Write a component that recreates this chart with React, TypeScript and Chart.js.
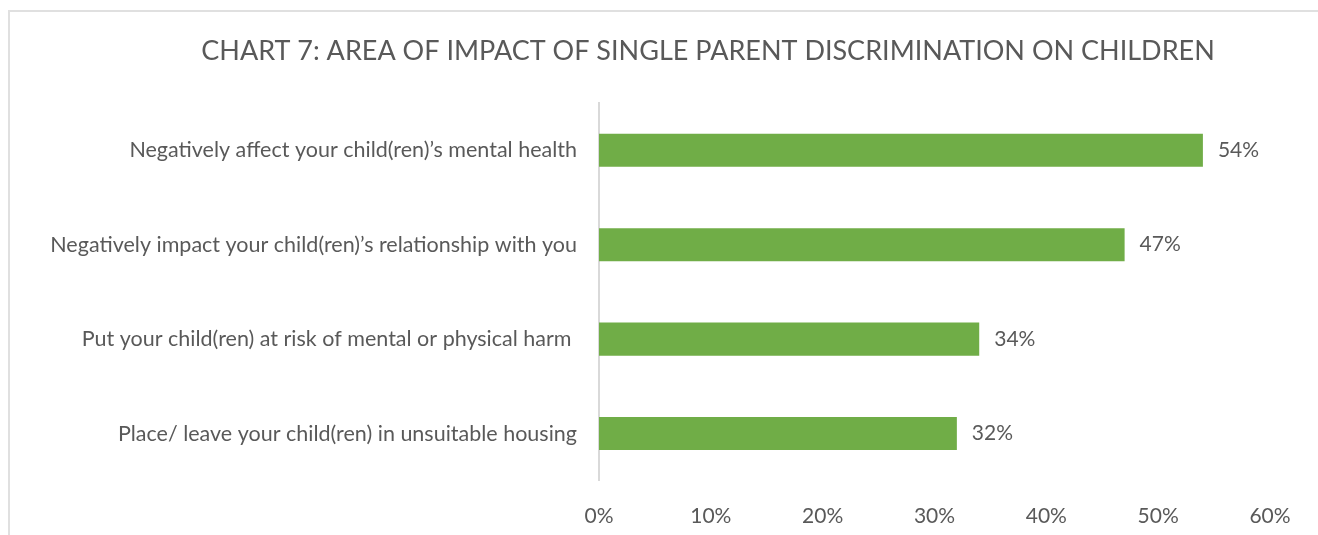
import React, { useEffect, useRef } from "react";
import { Chart, registerables } from "chart.js";

Chart.register(...registerables);

const titleText = "CHART 7: AREA OF IMPACT OF SINGLE PARENT DISCRIMINATION ON CHILDREN";
const categories = [
  "Negatively affect your child(ren)’s mental health",
  "Negatively impact your child(ren)’s relationship with you",
  "Put your child(ren) at risk of mental or physical harm ",
  "Place/ leave your child(ren) in unsuitable housing",
];
const values = [54, 47, 34, 32];
const axisMin = 0;
const axisMax = 60;
const axisStep = 10;

const FONT = "Lato, 'Open Sans', sans-serif";
const TEXT = "#595959";

const valueLabels = {
  id: "valueLabels",
  afterDatasetsDraw(chart: any) {
    const ctx = chart.ctx;
    const meta = chart.getDatasetMeta(0);
    ctx.save();
    ctx.font = `21px ${FONT}`;
    ctx.fillStyle = TEXT;
    ctx.textAlign = "left";
    ctx.textBaseline = "middle";
    meta.data.forEach((bar: any, i: number) => {
      ctx.fillText(values[i] + "%", bar.x + 15, bar.y);
    });
    ctx.restore();
  },
};

const chartTitle = {
  id: "chartTitle",
  afterDraw(chart: any) {
    const ctx = chart.ctx;
    ctx.save();
    ctx.font = `27px ${FONT}`;
    ctx.fillStyle = TEXT;
    ctx.textAlign = "center";
    ctx.textBaseline = "middle";
    ctx.fillText(titleText, 708, 51);
    ctx.restore();
  },
};

export default function App() {
  const ref = useRef<HTMLCanvasElement>(null);
  useEffect(() => {
    const chart = new Chart(ref.current!, {
      type: "bar",
      data: {
        labels: categories,
        datasets: [
          {
            data: values,
            backgroundColor: "#70AD47",
            borderWidth: 0,
            categoryPercentage: 1,
            barPercentage: 0.35,
          },
        ],
      },
      options: {
        indexAxis: "y",
        animation: false,
        responsive: false,
        layout: { padding: { left: 0, right: 146, top: 103, bottom: 8 } },
        plugins: {
          legend: { display: false },
          tooltip: { enabled: false },
          title: { display: false },
        },
        scales: {
          x: {
            min: axisMin,
            max: axisMax,
            grid: { display: false, drawTicks: false },
            border: { display: false },
            ticks: {
              stepSize: axisStep,
              color: TEXT,
              padding: 23,
              font: { family: FONT, size: 21 },
              callback: (v: any) => v + "%",
            },
          },
          y: {
            grid: { display: false, drawTicks: false },
            border: { display: true, color: "#d9d9d9", width: 2 },
            ticks: {
              color: TEXT,
              padding: 22,
              font: { family: FONT, size: 21.5 },
            },
            afterFit: (s: any) => {
              s.width = 599;
            },
          },
        },
      },
      plugins: [valueLabels, chartTitle],
    });
    return () => chart.destroy();
  }, []);
  return (
    <div
      style={{
        position: "fixed",
        left: 0,
        top: 0,
        width: 1318,
        height: 535,
        overflow: "hidden",
        background: "#fff",
      }}
    >
      <div
        style={{
          position: "absolute",
          left: 8,
          top: 10,
          width: 1400,
          height: 600,
          borderLeft: "2px solid #e0e0e0",
          borderTop: "2px solid #e0e0e0",
        }}
      />
      <canvas
        ref={ref}
        width={1416}
        height={560}
        style={{ position: "absolute", left: 0, top: 0 }}
      />
    </div>
  );
}
